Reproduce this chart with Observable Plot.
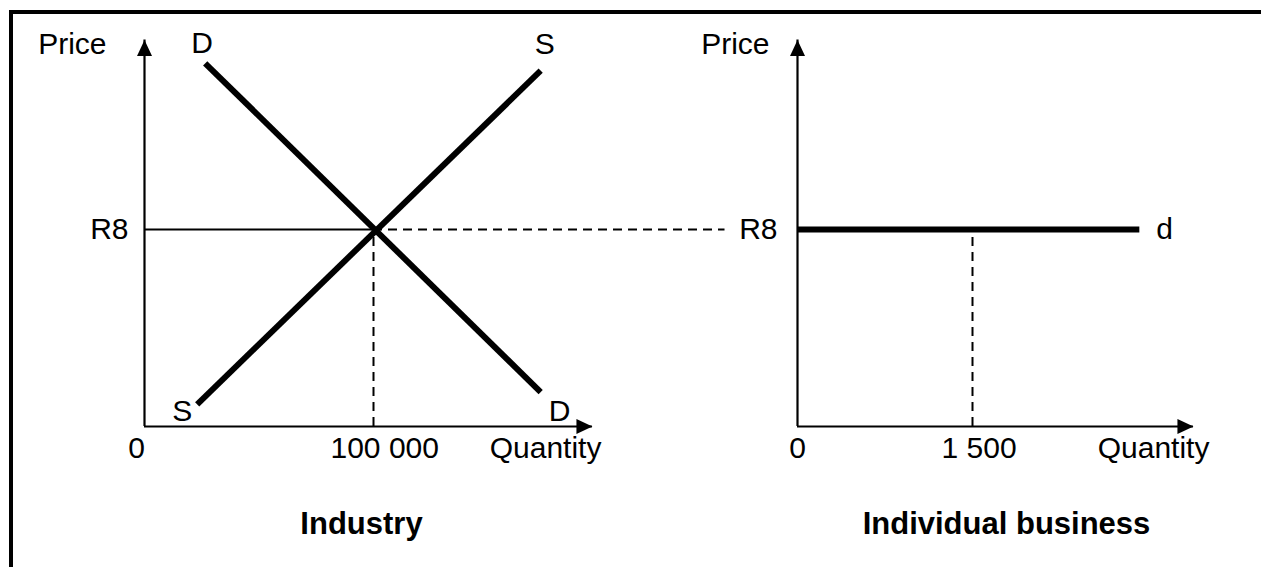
<!DOCTYPE html>
<html>
<head>
<meta charset="utf-8">
<script src="https://cdn.jsdelivr.net/npm/d3@7"></script>
<script src="https://cdn.jsdelivr.net/npm/@observablehq/plot@0.6"></script>
<style>
html, body { margin: 0; padding: 0; background: #fff; }
#chart { position: relative; width: 1261px; height: 567px; overflow: hidden; background: #fff; }
#frame { position: absolute; left: 9px; top: 10px; right: -20px; bottom: -20px; border-left: 4px solid #000; border-top: 4px solid #000; }
#chart svg { position: absolute; left: 0; top: 0; }
</style>
</head>
<body>
<div id="chart"><div id="frame"></div></div>
<script>
// ---- Text ----
const priceAxisLabel = "Price";
const quantityAxisLabel = "Quantity";
const priceLabel = "R8";
const industryTitle = "Industry";
const firmTitle = "Individual business";

// ---- Shared price level ----
const priceLevel = 8;
const priceDomain = [0, 16];
const priceAxisMax = 15.7;

// ---- Industry (left) ----
const industryQDomain = [0, 200000];
const industryQAxisMax = 195600;
const industryQTicks = [0, 100000];
const industryQTickLabels = ["0", "100 000"];
const equilibriumQ = 100000;
const connectorQEnd = 253500;
const demandQ = [26500, 173000];
const demandP = [14.75, 1.4];
const demandLabels = ["D", "D"];
const supplyQ = [23000, 173000];
const supplyP = [0.9, 14.45];
const supplyLabels = ["S", "S"];

// ---- Individual business (right) ----
const firmQDomain = [0, 3000];
const firmQAxisMax = 3394;
const firmQTicks = [0, 1500];
const firmQTickLabels = ["0", "1 500"];
const firmQ = 1500;
const firmDemandQ = [0, 2930];
const firmDemandP = [8, 8];
const firmDemandLabel = "d";

// ---- Build ----
const W = 1261, H = 567;
const FONT = "'Liberation Sans', Arial, Helvetica, sans-serif";
const FS = 30;
const arrowHead = {
  draw(ctx) { ctx.moveTo(0, 0); ctx.lineTo(7.5, 16); ctx.lineTo(-7.5, 16); ctx.closePath(); }
};
const dash = {strokeWidth: 2, strokeDasharray: "9,6", stroke: "black"};
const thick = {strokeWidth: 6, stroke: "black", strokeLinecap: "butt"};
const common = {
  width: W, height: H, marginTop: 32, marginBottom: 141,
  y: {domain: priceDomain, axis: null},
  style: {background: "transparent", fontFamily: FONT, fontSize: FS + "px", color: "black", overflow: "visible"}
};
const txt = (t, o) => Plot.text([t], {text: d => d, fontSize: FS, fill: "black", lineAnchor: "bottom", ...o});
const zip = (a, b) => a.map((v, i) => ({q: v, p: b[i]}));

function axes(qMax) {
  return [
    Plot.ruleY([0], {x1: 0, x2: qMax, strokeWidth: 2.2, stroke: "black"}),
    Plot.ruleX([0], {y1: 0, y2: priceAxisMax, strokeWidth: 2.2, stroke: "black"}),
    Plot.dot([{q: qMax, p: 0, a: 90}, {q: 0, p: priceAxisMax, a: 0}], {
      x: "q", y: "p", rotate: "a", symbol: arrowHead, r: 5, fill: "black", stroke: "none"
    })
  ];
}

const demand = zip(demandQ, demandP);
const supply = zip(supplyQ, supplyP);

const left = Plot.plot({
  ...common, marginLeft: 144, marginRight: W - 602,
  x: {domain: industryQDomain, axis: null},
  marks: [
    ...axes(industryQAxisMax),
    Plot.ruleY([priceLevel], {x1: 0, x2: equilibriumQ, strokeWidth: 2.2, stroke: "black"}),
    Plot.ruleY([priceLevel], {x1: equilibriumQ, x2: connectorQEnd, ...dash}),
    Plot.ruleX([equilibriumQ], {y1: 0, y2: priceLevel, ...dash}),
    Plot.line(demand, {x: "q", y: "p", ...thick}),
    Plot.line(supply, {x: "q", y: "p", ...thick}),
    // curve labels
    txt(demandLabels[0], {x: demandQ[0], y: demandP[0], dx: -3, dy: -10}),
    txt(demandLabels[1], {x: demandQ[1], y: demandP[1], dx: 19, dy: 29}),
    txt(supplyLabels[1], {x: supplyQ[1], y: supplyP[1], dx: 4, dy: -17}),
    txt(supplyLabels[0], {x: supplyQ[0], y: supplyP[0], dx: -15, dy: 17}),
    // axis labels
    txt(priceAxisLabel, {x: 0, y: priceAxisMax, textAnchor: "end", dx: -38, dy: 14}),
    txt(priceLabel, {x: 0, y: priceLevel, textAnchor: "end", dx: -16, lineAnchor: "middle"}),
    txt(industryQTickLabels[0], {x: industryQTicks[0], y: 0, dx: -8, dy: 31}),
    txt(industryQTickLabels[1], {x: industryQTicks[1], y: 0, textAnchor: "start", dx: -43, dy: 31}),
    txt(quantityAxisLabel, {x: industryQAxisMax, y: 0, textAnchor: "end", dx: 9, dy: 31}),
    txt(industryTitle, {frameAnchor: "bottom", dx: -12, dy: 107, fontWeight: "bold", fontSize: 31})
  ]
});

const right = Plot.plot({
  ...common, marginLeft: 797, marginRight: W - 1147,
  x: {domain: firmQDomain, axis: null},
  marks: [
    ...axes(firmQAxisMax),
    Plot.ruleX([firmQ], {y1: 0, y2: priceLevel, ...dash}),
    Plot.line(zip(firmDemandQ, firmDemandP), {x: "q", y: "p", ...thick}),
    txt(firmDemandLabel, {x: firmDemandQ[1], y: firmDemandP[1], textAnchor: "start", dx: 17, lineAnchor: "middle"}),
    txt(priceAxisLabel, {x: 0, y: priceAxisMax, textAnchor: "end", dx: -28, dy: 14}),
    txt(priceLabel, {x: 0, y: priceLevel, textAnchor: "end", dx: -20, lineAnchor: "middle"}),
    txt(firmQTickLabels[0], {x: firmQTicks[0], y: 0, dy: 31}),
    txt(firmQTickLabels[1], {x: firmQTicks[1], y: 0, textAnchor: "start", dx: -31, dy: 31}),
    txt(quantityAxisLabel, {x: firmQAxisMax, y: 0, textAnchor: "end", dx: 16, dy: 31}),
    txt(firmTitle, {frameAnchor: "bottom", dx: 34, dy: 107, fontWeight: "bold", fontSize: 31})
  ]
});

const chart = document.getElementById("chart");
chart.appendChild(left);
chart.appendChild(right);
</script>
</body>
</html>
